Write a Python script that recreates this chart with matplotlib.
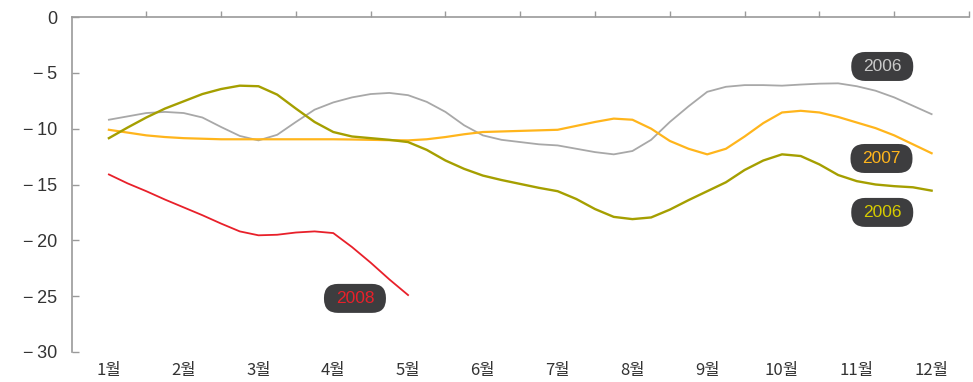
import matplotlib
matplotlib.use("Agg")
import matplotlib.pyplot as plt
from matplotlib.patches import FancyBboxPatch

plt.rcParams['font.family'] = ['Noto Sans CJK KR', 'DejaVu Sans']

months = ['1월', '2월', '3월', '4월', '5월', '6월', '7월', '8월', '9월', '10월', '11월', '12월']
# quarter-month positions (1 = 1월 ... 12 = 12월)
pos = [1.0, 1.25, 1.5, 1.75, 2.0, 2.25, 2.5, 2.75, 3.0, 3.25, 3.5, 3.75, 4.0, 4.25, 4.5, 4.75,
       5.0, 5.25, 5.5, 5.75, 6.0, 6.25, 6.5, 6.75, 7.0, 7.25, 7.5, 7.75, 8.0, 8.25, 8.5, 8.75,
       9.0, 9.25, 9.5, 9.75, 10.0, 10.25, 10.5, 10.75, 11.0, 11.25, 11.5, 11.75, 12.0]

gray_2006 = [-9.2, -8.9, -8.6, -8.5, -8.6, -9.0, -9.85, -10.65, -11.05, -10.55, -9.4, -8.3,
             -7.65, -7.2, -6.9, -6.8, -7.0, -7.6, -8.5, -9.7, -10.6, -11.0, -11.2, -11.4,
             -11.5, -11.8, -12.1, -12.3, -12.0, -11.0, -9.4, -8.0, -6.7, -6.25, -6.1, -6.1,
             -6.15, -6.05, -5.97, -5.94, -6.2, -6.6, -7.2, -7.95, -8.7]
olive_2006 = [-10.85, -9.9, -9.0, -8.2, -7.55, -6.9, -6.45, -6.15, -6.2, -6.95, -8.2, -9.4,
              -10.3, -10.7, -10.85, -11.0, -11.2, -11.9, -12.85, -13.6, -14.2, -14.6, -14.95, -15.3,
              -15.6, -16.3, -17.2, -17.9, -18.1, -17.95, -17.25, -16.4, -15.6, -14.8, -13.7, -12.85,
              -12.3, -12.45, -13.2, -14.15, -14.7, -15.0, -15.15, -15.25, -15.55]
orange_2007 = [-10.1, -10.35, -10.6, -10.75, -10.85, -10.9, -10.95, -10.95, -10.95, -10.95, -10.95, -10.95,
               -10.95, -10.97, -11.0, -11.03, -11.05, -10.95, -10.75, -10.5, -10.3, -10.25, -10.2, -10.15,
               -10.1, -9.75, -9.4, -9.1, -9.2, -10.0, -11.1, -11.8, -12.3, -11.8, -10.7, -9.5,
               -8.55, -8.4, -8.55, -8.95, -9.45, -9.95, -10.6, -11.4, -12.2]
red_2008 = [-14.1, -14.9, -15.6, -16.35, -17.05, -17.75, -18.5, -19.2, -19.55, -19.5, -19.3, -19.2,
            -19.35, -20.6, -22.0, -23.5, -24.9]

yticks = [0, -5, -10, -15, -20, -25, -30]
ytick_labels = ['0', '−\u20095', '−\u200910', '−\u200915', '−\u200920', '−\u200925', '−\u200930']

label_text = ['2006', '2007', '2006', '2008']
label_x = [11.34, 11.33, 11.34, 4.29]
label_y = [-4.43, -12.67, -17.5, -25.2]
label_colors = ['#C9C9C9', '#FFB51C', '#D6CB00', '#E8202A']

fig = plt.figure(figsize=(9.73, 3.82), dpi=100)
ax = fig.add_axes([71.5 / 973, 1 - 352 / 382, (969 - 71.5) / 973, (352 - 17) / 382])

ax.plot(pos, gray_2006, color='#A8A8A8', lw=1.3, zorder=3)
ax.plot(pos, orange_2007, color='#FFB51C', lw=1.6, zorder=3)
ax.plot(pos, olive_2006, color='#A59F00', lw=1.7, zorder=4)
ax.plot(pos[:len(red_2008)], red_2008, color='#E8202A', lw=1.3, zorder=5)

ax.set_xlim(0.5, 12.5)
ax.set_ylim(-30, 0)

spine_c = '#9A9A9A'
for s in ['bottom', 'right']:
    ax.spines[s].set_visible(False)
for s in ['top', 'left']:
    ax.spines[s].set_color(spine_c)
    ax.spines[s].set_linewidth(1.2)

ax.set_yticks(yticks)
ax.set_yticklabels(ytick_labels, fontsize=13, color='#333333',
                   family=['Liberation Sans', 'DejaVu Sans'])
ax.tick_params(axis='y', direction='in', length=5, width=1, color=spine_c, pad=10)

ax.set_xticks(range(1, 13))
ax.set_xticklabels(months, fontsize=12, color='#333333')
ax.tick_params(axis='x', which='major', bottom=True, top=False, length=0, pad=7)
ax.set_xticks([m + 0.5 for m in range(1, 13)], minor=True)
ax.tick_params(axis='x', which='minor', bottom=False, top=True, direction='out',
               length=4, width=1, color=spine_c)

# pixel -> data scale for the rounded label boxes
x_per_px = 12.0 / (969 - 71.5)
y_per_px = 30.0 / (352 - 17)
bw, bh = 62 * x_per_px, 29 * y_per_px
aspect = y_per_px / x_per_px
for x, y, t, c in zip(label_x, label_y, label_text, label_colors):
    patch = FancyBboxPatch((x - bw / 2, y - bh / 2), bw, bh,
                           boxstyle='round,pad=0,rounding_size=%f' % (14 * x_per_px),
                           mutation_aspect=aspect, facecolor='#3D3D3F', edgecolor='none',
                           zorder=6, clip_on=False)
    ax.add_patch(patch)
    ax.text(x, y, t, color=c, fontsize=12.5, ha='center', va='center',
            family=['Liberation Sans'], zorder=7)

fig.savefig('out.png', dpi=100)
